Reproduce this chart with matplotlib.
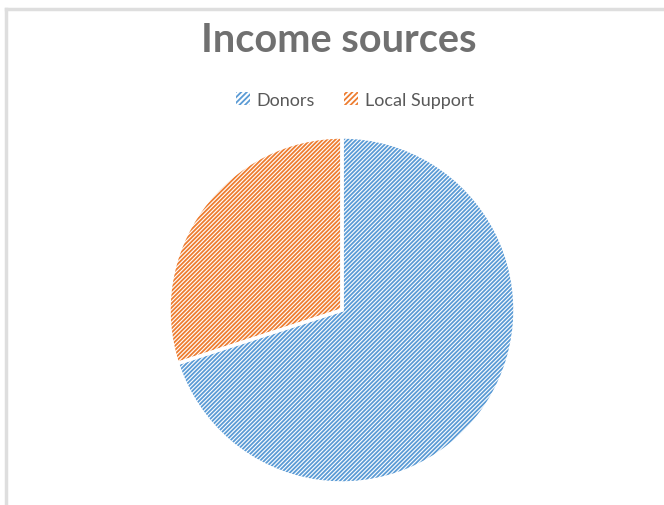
import matplotlib
matplotlib.use("Agg")
import matplotlib.pyplot as plt
from matplotlib.patches import Patch
from matplotlib.lines import Line2D

categories = ["Donors", "Local Support"]
values = [70, 30]
colors = ["#5B9BD5", "#ED7D31"]
title = "Income sources"

plt.rcParams['hatch.linewidth'] = 1.3
plt.rcParams['font.family'] = ['Lato', 'DejaVu Sans']

fig = plt.figure(figsize=(6.64, 5.06), dpi=100)
fig.patch.set_facecolor("white")

# outer frame lines (top and left)
fig.add_artist(Line2D([6/664, 1.0], [1 - 10/506, 1 - 10/506], color="#dedede", lw=2.5, transform=fig.transFigure))
fig.add_artist(Line2D([6/664, 6/664], [0, 1 - 10/506], color="#dedede", lw=2.5, transform=fig.transFigure))

# pie axes: center (342,311), radius ~172
r = 173
cx, cy = 342, 311
ax = fig.add_axes([(cx - r)/664, 1 - (cy + r)/506, 2*r/664, 2*r/506])
wedges, _ = ax.pie(values, startangle=90, counterclock=False, colors=["white"]*2,
                   wedgeprops=dict(linewidth=0), radius=1)
for w, c in zip(wedges, colors):
    w.set_edgecolor(c)
    w.set_hatch("////////")
# white separators
ax.pie(values, startangle=90, counterclock=False, colors=["none"]*2,
       wedgeprops=dict(linewidth=2.5, edgecolor="white", fill=False), radius=1)
ax.set_xlim(-1, 1)
ax.set_ylim(-1, 1)
ax.set_aspect("auto")
ax.axis("off")

fig.text(339/664, 1 - 40/506, title, ha="center", va="center", fontsize=28.5,
         fontweight="bold", color="#707070")

handles = [Patch(facecolor="white", edgecolor=c, hatch="//////", linewidth=0) for c in colors]
leg = fig.legend(handles, categories, loc="center", bbox_to_anchor=(355/664, 1 - 101/506),
                 ncol=2, frameon=False, fontsize=13, handlelength=0.75, handleheight=0.75,
                 handletextpad=0.4, columnspacing=1.6)
for t in leg.get_texts():
    t.set_color("#595959")

fig.savefig("out.png", dpi=100, facecolor="white")
